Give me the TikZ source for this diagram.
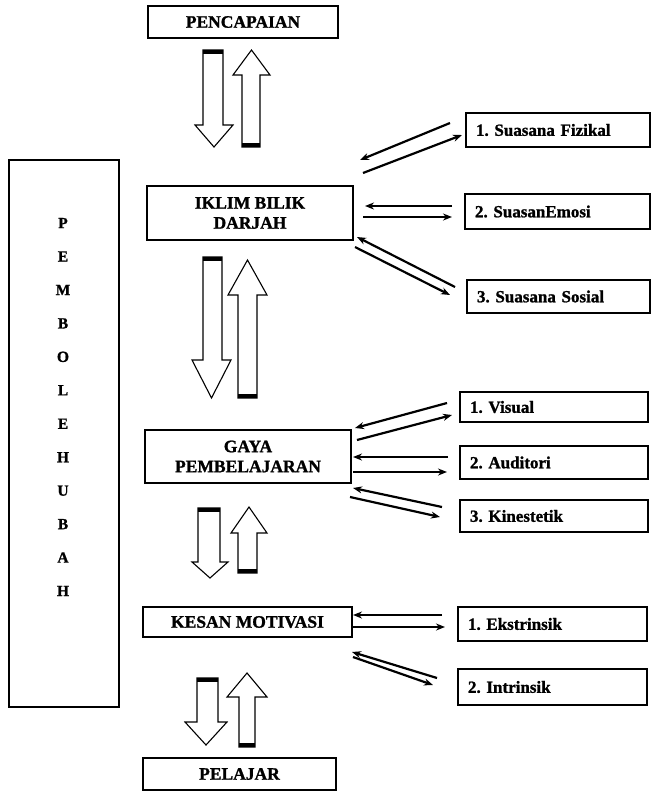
\documentclass[tikz,border=0pt]{standalone}
\usepackage{fontspec}
\setmainfont{Liberation Serif}[BoldFeatures={FakeBold=1.2}]
\usetikzlibrary{arrows.meta}
\newcommand\fatdown[7]{% xl xr ytop ybase ytip hl hr
  \draw[fatline] (#1,#3) -- (#2,#3) -- (#2,#4) -- (#7,#4) -- ({(#6+#7)/2},#5) -- (#6,#4) -- (#1,#4) -- cycle;
  \fill (#1,#3) rectangle (#2,#3+4);}
\newcommand\fatup[7]{% xl xr ybot ybase ytip hl hr
  \draw[fatline] (#1,#3) -- (#2,#3) -- (#2,#4) -- (#7,#4) -- ({(#6+#7)/2},#5) -- (#6,#4) -- (#1,#4) -- cycle;
  \fill (#1,#3) rectangle (#2,#3-4);}
\begin{document}
\frenchspacing
\begin{tikzpicture}[x=1pt,y=-1pt,
  box/.style={draw, line width=1.1pt, inner sep=0pt, align=center,
    font=\fontsize{17.5}{20}\selectfont\bfseries},
  rbox/.style={draw, line width=1.1pt, inner xsep=10pt, inner ysep=0pt, align=left,
    font=\fontsize{17}{19}\selectfont\bfseries},
  fatline/.style={line width=1.1pt, line join=miter},
  thin/.style={line width=2.2pt, -{Stealth[length=9pt,width=7pt]}}]
\useasboundingbox (0,0) rectangle (653,793);
% main column
\node[box, minimum width=190pt, minimum height=32pt] (pen) at (243,22) {PENCAPAIAN};
\node[box, minimum width=206pt, minimum height=54pt] (iklim) at (250,213) {IKLIM BILIK\\DARJAH};
\node[box, minimum width=206pt, minimum height=53pt] (gaya) at (248,456.5) {GAYA\\PEMBELAJARAN};
\node[box, minimum width=209pt, minimum height=30pt] (kesan) at (247.5,622) {KESAN MOTIVASI};
\node[box, minimum width=193pt, minimum height=32pt] (pel) at (239.5,774) {PELAJAR};
% left box
\node[draw, line width=1.3pt, minimum width=110pt, minimum height=547pt, inner sep=0pt] (pem) at (64,433.5) {};
\node[align=center, inner sep=0pt, font=\fontsize{15.5}{33.45}\selectfont\bfseries] (pemtxt) at (63,407) {P\\E\\M\\B\\O\\L\\E\\H\\U\\B\\A\\H};
% right boxes
\node[rbox, text width=164pt, minimum height=34pt] (r1) at (558,130) {1. Suasana Fizikal};
\node[rbox, text width=165pt, minimum height=35pt] (r2) at (557.5,211.5) {2. SuasanEmosi};
\node[rbox, text width=163pt, minimum height=33pt] (r3) at (558.5,296.5) {3. Suasana Sosial};
\node[rbox, text width=168pt, minimum height=30pt] (g1) at (554,407) {1. Visual};
\node[rbox, text width=168pt, minimum height=33pt] (g2) at (554,462.5) {2. Auditori};
\node[rbox, text width=168pt, minimum height=32pt] (g3) at (554,516) {3. Kinestetik};
\node[rbox, text width=169pt, minimum height=34pt] (k1) at (552.5,624) {1. Ekstrinsik};
\node[rbox, text width=169pt, minimum height=36pt] (k2) at (552.5,687) {2. Intrinsik};
% fat arrows
\fatdown{203}{223}{50}{125}{147}{195}{233}
\fatup{242}{260}{147}{75}{50}{233}{270}
\fatdown{203}{222}{257}{360}{398}{192}{231}
\fatup{238}{257}{398}{295}{260}{228}{267}
\fatdown{198}{220}{508}{562}{578}{192}{228}
\fatup{238}{257}{573}{533}{507}{231}{267}
\fatdown{197}{218}{678}{722}{745}{185}{227}
\fatup{239}{255}{747}{697}{673}{227}{267}
% thin arrows
\draw[thin] (450,123) -- (360,160);
\draw[thin] (363,173) -- (462,135);
\draw[thin] (452,206) -- (365,206);
\draw[thin] (363,217) -- (452,217);
\draw[thin] (455,287) -- (357,237);
\draw[thin] (355,247) -- (450,295);
\draw[thin] (447,403) -- (355,428);
\draw[thin] (357,440) -- (452,415);
\draw[thin] (448,457) -- (353,457);
\draw[thin] (353,472) -- (447,472);
\draw[thin] (442,507) -- (353,488);
\draw[thin] (350,497) -- (440,517);
\draw[thin] (442,615) -- (353,615);
\draw[thin] (353,627) -- (445,627);
\draw[thin] (437,678) -- (352,652);
\draw[thin] (353,657) -- (433,685);
\end{tikzpicture}
\end{document}
